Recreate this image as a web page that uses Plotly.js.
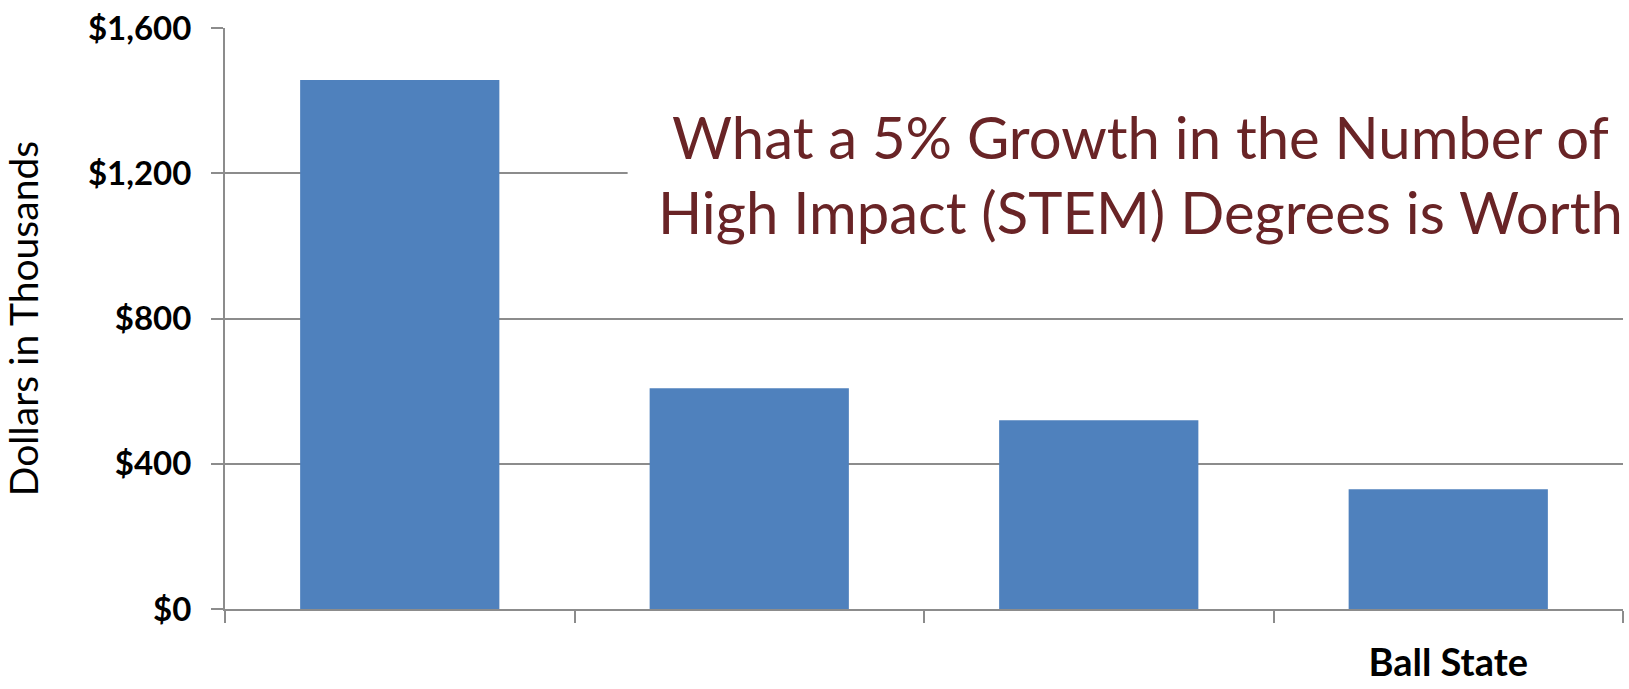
<!DOCTYPE html>
<html>
<head>
<meta charset="utf-8">
<script src="https://cdn.plot.ly/plotly-3.0.1.min.js"></script>
<style>html,body{margin:0;padding:0;background:#fff;}#chart{width:1629px;height:689px;}</style>
</head>
<body>
<div id="chart"></div>
<script>
const categories = ["Group 1", "Group 2", "Group 3", "Ball State"];
const tickLabels = ["", "", "", "Ball State"];
const values = [1457, 608, 520, 330];
const yTickVals = [0, 400, 800, 1200, 1600];
const yTickText = ["$0", "$400", "$800", "$1,200", "$1,600"];
const chartTitle = "What a 5% Growth in the Number of<br>High Impact (STEM) Degrees is Worth";
const yTitle = "Dollars in Thousands";

const grey = "#8c8c8c";
const data = [{
  type: "bar",
  x: categories,
  y: values,
  marker: {color: "#4f81bd"},
  hoverinfo: "x+y"
}];

const layout = {
  width: 1629,
  height: 689,
  margin: {l: 225, r: 6, t: 28, b: 80, pad: 0},
  paper_bgcolor: "#ffffff",
  plot_bgcolor: "#ffffff",
  showlegend: false,
  bargap: 0.43,
  font: {family: "Lato, 'Open Sans', sans-serif", color: "#000000"},
  xaxis: {
    type: "category",
    tickvals: categories,
    ticktext: tickLabels,
    tickson: "boundaries",
    ticks: "outside",
    ticklen: 12,
    tickwidth: 2,
    tickcolor: grey,
    showline: true,
    linecolor: grey,
    linewidth: 2,
    showgrid: false,
    ticklabelstandoff: 19,
    tickfont: {family: "Lato, sans-serif", size: 38, color: "#000000", weight: "bold"}
  },
  yaxis: {
    range: [0, 1600],
    tickmode: "array",
    tickvals: yTickVals,
    ticktext: yTickText,
    ticks: "outside",
    ticklen: 12,
    tickwidth: 2,
    tickcolor: grey,
    showline: true,
    linecolor: grey,
    linewidth: 2,
    showgrid: true,
    gridcolor: grey,
    gridwidth: 2,
    zeroline: false,
    ticklabelstandoff: 13,
    tickfont: {family: "Lato, sans-serif", size: 33, color: "#000000", weight: "bold"},
    title: {text: yTitle, standoff: 42, font: {family: "Lato, sans-serif", size: 39, color: "#000000"}}
  },
  shapes: [{
    type: "rect", xref: "paper", yref: "paper",
    x0: 0.288, x1: 1.01, y0: 0.56, y1: 0.92,
    fillcolor: "#ffffff", line: {width: 0}, layer: "above"
  }],
  annotations: [{
    xref: "paper", yref: "paper",
    x: 0.655, y: 0.748, xanchor: "center", yanchor: "middle",
    text: chartTitle, showarrow: false, align: "center",
    font: {family: "Lato, sans-serif", size: 58, color: "#692426"}
  }]
};

Plotly.newPlot("chart", data, layout, {displayModeBar: false, staticPlot: true});
</script>
</body>
</html>
